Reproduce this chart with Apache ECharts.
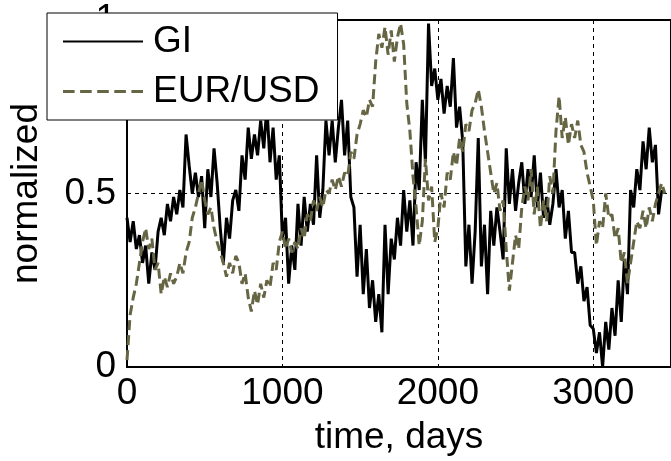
<!DOCTYPE html>
<html>
<head>
<meta charset="utf-8">
<script src="https://cdn.jsdelivr.net/npm/echarts@6/dist/echarts.min.js"></script>
<style>
  html, body { margin: 0; padding: 0; background: #fff; }
  #chart { width: 671px; height: 461px; }
</style>
</head>
<body>
<div id="chart"></div>
<script>
// sampling step of both series, days
var dayStep = 20;

// GI, normalized, one value every dayStep days from day 0
var giValues = [
  0.43, 0.36, 0.42, 0.34, 0.38, 0.30, 0.35, 0.24, 0.33, 0.28,
  0.39, 0.43, 0.38, 0.47, 0.42, 0.49, 0.44, 0.51, 0.46, 0.67,
  0.58, 0.50, 0.56, 0.49, 0.55, 0.40, 0.57, 0.49, 0.63, 0.53,
  0.40, 0.30, 0.43, 0.37, 0.48, 0.51, 0.45, 0.61, 0.54, 0.69,
  0.60, 0.67, 0.61, 0.71, 0.63, 0.75, 0.59, 0.69, 0.54, 0.61,
  0.37, 0.43, 0.24, 0.35, 0.28, 0.47, 0.35, 0.49, 0.39, 0.47,
  0.41, 0.61, 0.43, 0.51, 0.71, 0.61, 0.71, 0.59, 0.69, 0.77,
  0.61, 0.71, 0.49, 0.46, 0.26, 0.41, 0.21, 0.34, 0.17, 0.25,
  0.13, 0.21, 0.10, 0.41, 0.21, 0.37, 0.31, 0.43, 0.35, 0.51,
  0.39, 0.48, 0.35, 0.59, 0.51, 0.77, 0.59, 0.99, 0.81, 0.86,
  0.77, 0.83, 0.73, 0.81, 0.75, 0.89, 0.69, 0.75, 0.65, 0.29,
  0.41, 0.24, 0.39, 0.66, 0.29, 0.41, 0.21, 0.45, 0.35, 0.46,
  0.39, 0.31, 0.63, 0.47, 0.57, 0.45, 0.53, 0.59, 0.47, 0.57,
  0.49, 0.61, 0.46, 0.56, 0.43, 0.49, 0.41, 0.47, 0.57, 0.46,
  0.51, 0.37, 0.45, 0.33, 0.33, 0.24, 0.29, 0.19, 0.23, 0.12,
  0.11, 0.04, 0.10, 0.00, 0.13, 0.05, 0.17, 0.09, 0.25, 0.13,
  0.31, 0.21, 0.51, 0.46, 0.57, 0.51, 0.65, 0.57, 0.69, 0.59,
  0.64, 0.44, 0.51
];

// EUR/USD, normalized, same sampling
var eurUsdValues = [
  0.02, 0.15, 0.20, 0.24, 0.30, 0.36, 0.40, 0.34, 0.37, 0.28,
  0.30, 0.21, 0.26, 0.23, 0.27, 0.24, 0.26, 0.30, 0.27, 0.33,
  0.36, 0.43, 0.46, 0.50, 0.54, 0.48, 0.44, 0.46, 0.40, 0.36,
  0.33, 0.30, 0.26, 0.30, 0.27, 0.32, 0.30, 0.24, 0.27, 0.20,
  0.16, 0.22, 0.18, 0.24, 0.20, 0.25, 0.23, 0.30, 0.28, 0.36,
  0.39, 0.34, 0.37, 0.33, 0.36, 0.34, 0.40, 0.37, 0.44, 0.42,
  0.48, 0.45, 0.49, 0.46, 0.51, 0.50, 0.54, 0.51, 0.55, 0.52,
  0.56, 0.55, 0.62, 0.60, 0.67, 0.70, 0.74, 0.72, 0.77, 0.75,
  0.88, 0.96, 0.92, 0.98, 0.90, 0.97, 0.88, 0.95, 0.99, 0.93,
  0.76, 0.68, 0.55, 0.46, 0.35, 0.42, 0.60, 0.48, 0.52, 0.36,
  0.40, 0.50, 0.46, 0.56, 0.54, 0.62, 0.58, 0.66, 0.62, 0.70,
  0.68, 0.74, 0.76, 0.80, 0.75, 0.68, 0.62, 0.56, 0.50, 0.53,
  0.45, 0.48, 0.34, 0.22, 0.30, 0.38, 0.34, 0.46, 0.52, 0.48,
  0.57, 0.44, 0.52, 0.40, 0.48, 0.42, 0.55, 0.50, 0.68, 0.78,
  0.66, 0.72, 0.64, 0.70, 0.66, 0.71, 0.64, 0.62, 0.56, 0.52,
  0.48, 0.35, 0.42, 0.40, 0.50, 0.43, 0.44, 0.37, 0.40, 0.30,
  0.33, 0.24, 0.30, 0.36, 0.42, 0.40, 0.45, 0.40, 0.46, 0.42,
  0.47, 0.50, 0.53, 0.50
];

var xTicks = [0, 1000, 2000, 3000];
var yTicks = [0, 0.5, 1];

function toPairs(values) {
  var out = [];
  for (var i = 0; i < values.length; i++) {
    out.push([i * dayStep, values[i]]);
  }
  return out;
}

var font = "'Liberation Sans', Arial, sans-serif";
var olive = '#666645';
// legend icons: a solid stroke and five dashes, 80 units wide
var solidIcon = 'path://M0 0h80v2h-80z';
var dashIcon = 'path://M0 0h11.6v3h-11.6z M17.1 0h11.6v3h-11.6z M34.2 0h11.6v3h-11.6z M51.3 0h11.6v3h-11.6z M68.4 0h11.6v3h-11.6z';

var chart = echarts.init(document.getElementById('chart'));

chart.setOption({
  animation: false,
  textStyle: { fontFamily: font },
  grid: {
    left: 124, top: 20, right: -3, bottom: 94,
    show: true, borderColor: '#000', borderWidth: 2
  },
  legend: {
    left: 47, top: 13,
    orient: 'vertical',
    itemWidth: 80, itemHeight: 3, itemGap: 13,
    padding: [10, 18, 10, 16],
    backgroundColor: '#fff',
    borderColor: '#000', borderWidth: 1, borderRadius: 0,
    textStyle: { fontSize: 37, color: '#000', fontFamily: font, padding: [0, 0, 0, 5] },
    data: [
      { name: 'GI', icon: solidIcon },
      { name: 'EUR/USD', icon: dashIcon }
    ]
  },
  xAxis: {
    type: 'value', min: 0, max: 3500, interval: 1000,
    name: 'time, days', nameLocation: 'middle', nameGap: 52,
    nameTextStyle: { fontSize: 37, color: '#000' },
    axisLine: { show: false },
    axisTick: { show: false },
    axisLabel: {
      fontSize: 37, color: '#000', margin: 8,
      customValues: xTicks,
      formatter: function (v) { return String(v); }
    },
    splitLine: { show: true, lineStyle: { color: '#000', width: 1, type: [4, 4] } }
  },
  yAxis: {
    type: 'value', min: 0, max: 1, interval: 0.5,
    name: 'normalized', nameLocation: 'middle', nameGap: 82,
    nameTextStyle: { fontSize: 37, color: '#000' },
    axisLine: { show: false },
    axisTick: { show: false },
    axisLabel: {
      fontSize: 37, color: '#000', margin: 11,
      customValues: yTicks,
      formatter: function (v) { return String(v); }
    },
    splitLine: { show: true, lineStyle: { color: '#000', width: 1, type: [4, 4] } }
  },
  series: [
    {
      name: 'GI', type: 'line', showSymbol: false, symbol: 'none',
      data: toPairs(giValues),
      color: '#000',
      lineStyle: { color: '#000', width: 3 }
    },
    {
      name: 'EUR/USD', type: 'line', showSymbol: false, symbol: 'none',
      data: toPairs(eurUsdValues),
      color: olive,
      lineStyle: { color: olive, width: 3, type: [10, 5] }
    }
  ]
});
</script>
</body>
</html>
